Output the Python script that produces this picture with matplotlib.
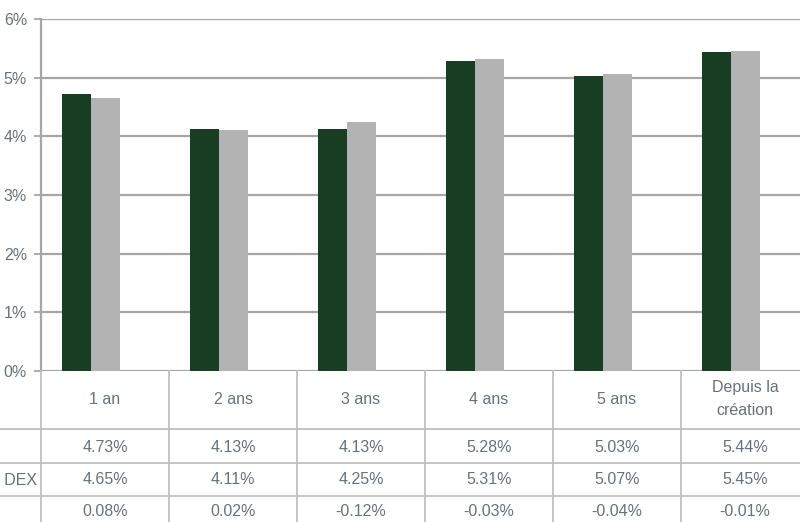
import matplotlib
matplotlib.use("Agg")
import matplotlib.pyplot as plt
import numpy as np

# performance data (%)
periods = ["1 an", "2 ans", "3 ans", "4 ans", "5 ans", "Depuis la\ncréation"]
fonds = [4.73, 4.13, 4.13, 5.28, 5.03, 5.44]
indice = [4.65, 4.11, 4.25, 5.31, 5.07, 5.45]
ecart = [0.08, 0.02, -0.12, -0.03, -0.04, -0.01]
index_label = "Indice obligataire court terme DEX"
yticks = [0, 1, 2, 3, 4, 5, 6]

GREEN = "#173d22"
GREY = "#b3b3b3"
TXT = "#6b7078"
GRID = "#a6a6a6"
TBL = "#c0c0c0"
FS = 11.5

plt.rcParams["font.family"] = ["Liberation Sans", "DejaVu Sans"]

W, H = 800, 522
fig = plt.figure(figsize=(W / 100, H / 100), dpi=100)

left, right = 41, 809
zero_y, top_y = 371, 19
ax = fig.add_axes([left / W, (H - zero_y) / H,
                   (right - left) / W, (zero_y - top_y) / H])

x = np.arange(len(periods))
bw = 29 / 128
# three slots per group (fund, index, spread); the spread is too small to show
ax.bar(x - 1.5 * bw, fonds, width=bw, color=GREEN, align="edge", zorder=3)
ax.bar(x - 0.5 * bw, indice, width=bw, color=GREY, align="edge", zorder=3)

ax.set_xlim(-0.5, len(periods) - 0.5)
ax.set_ylim(0, 6)
ax.set_yticks(yticks)
ax.set_yticklabels([f"{v}%" for v in yticks], color=TXT, fontsize=FS)
ax.set_xticks([])
ax.yaxis.grid(True, color=GRID, linewidth=1.6, zorder=0)
ax.tick_params(axis="y", length=5, width=1.3, color=GRID, pad=5)
for s in ["top", "right", "bottom"]:
    ax.spines[s].set_visible(False)
ax.spines["left"].set_color(GRID)
ax.spines["left"].set_linewidth(1.6)

# table under the chart
tb = fig.add_axes([left / W, 0, (right - left) / W, (H - zero_y) / H])
tb.set_xlim(-0.5, len(periods) - 0.5)
tb.set_ylim(H - zero_y, 0)
tb.axis("off")

row_edges = [58, 92, 125]
for yy in row_edges:
    tb.plot([-2, 6], [yy, yy], color=TBL, lw=1.3, clip_on=False)
for xx in np.arange(-0.5, len(periods)):
    tb.plot([xx, xx], [0, H - zero_y], color=TBL, lw=1.3, clip_on=False)

for i, p in enumerate(periods):
    tb.text(i, 28, p, ha="center", va="center", color=TXT, fontsize=FS,
            linespacing=1.65)

row_y = [76, 109, 141]
for vals, yy in zip([fonds, indice, ecart], row_y):
    for i, v in enumerate(vals):
        tb.text(i, yy, f"{v:.2f}%", ha="center", va="center", color=TXT,
                fontsize=FS)

tb.text(-0.53, row_y[1], index_label, ha="right", va="center", color=TXT,
        fontsize=FS, clip_on=False)

fig.savefig("out.png", dpi=100)
